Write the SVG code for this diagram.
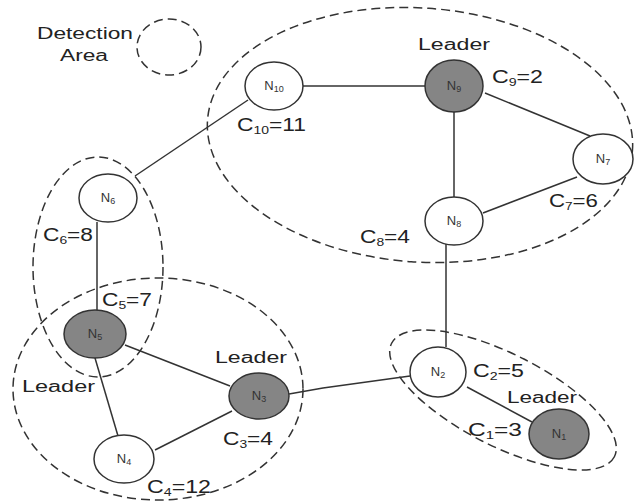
<svg xmlns="http://www.w3.org/2000/svg" width="634" height="504" viewBox="0 0 634 504">
<style>
.area{fill:none;stroke:#333;stroke-width:1.5;stroke-dasharray:9 5}
.node{stroke:#333;stroke-width:1.5}
.w{fill:#fff}
.g{fill:#858585}
.lbl{font-family:"Liberation Sans",Arial,sans-serif;fill:#222}
.nl{font-family:"Liberation Sans",Arial,sans-serif;font-size:13px;fill:#333;text-anchor:middle}
.sub{font-size:9px}
.lead{font-size:16px}
.cl{font-size:18px}
#connectors line,#connectors polyline{stroke:#333;stroke-width:1.5;fill:none}
</style>
<rect width="634" height="504" fill="#fff"/>
<g id="legend">
<text class="lbl lead" x="37" y="39" textLength="96" lengthAdjust="spacingAndGlyphs">Detection</text>
<text class="lbl lead" x="60" y="61" textLength="48" lengthAdjust="spacingAndGlyphs">Area</text>
<ellipse class="area" cx="169" cy="47" rx="32" ry="28"/>
</g>
<g id="areas">
<ellipse class="area" cx="420" cy="135" rx="213" ry="127" transform="rotate(4 420 135)"/>
<ellipse class="area" cx="98" cy="267" rx="65" ry="110"/>
<ellipse class="area" cx="158" cy="389" rx="145" ry="111"/>
<ellipse class="area" cx="503" cy="400" rx="125" ry="46" transform="rotate(27 503 400)"/>
</g>
<g id="connectors">
<line x1="303" y1="86" x2="425" y2="86"/>
<line x1="248" y1="100" x2="135" y2="176"/>
<line x1="454" y1="112" x2="454" y2="198"/>
<line x1="485" y1="93" x2="590" y2="136"/>
<line x1="483" y1="213" x2="577" y2="177"/>
<line x1="446" y1="244" x2="446" y2="347"/>
<line x1="97" y1="222" x2="97" y2="310"/>
<line x1="125" y1="345" x2="230" y2="386"/>
<line x1="95" y1="358" x2="118" y2="436"/>
<line x1="155" y1="450" x2="232" y2="411"/>
<polyline points="289,394 323,388 410,376"/>
<line x1="467" y1="387" x2="532" y2="422"/>
</g>
<g id="N10"><ellipse class="node w" cx="274" cy="86" rx="29" ry="24"/><text class="nl" x="274" y="90">N<tspan class="sub" dy="2">10</tspan></text></g>
<g id="N9"><ellipse class="node g" cx="454" cy="86" rx="29" ry="26"/><text class="nl" x="454" y="90">N<tspan class="sub" dy="2">9</tspan></text></g>
<g id="N7"><ellipse class="node w" cx="603" cy="159" rx="30" ry="25"/><text class="nl" x="603" y="163">N<tspan class="sub" dy="2">7</tspan></text></g>
<g id="N8"><ellipse class="node w" cx="454" cy="221" rx="29" ry="24"/><text class="nl" x="454" y="225">N<tspan class="sub" dy="2">8</tspan></text></g>
<g id="N6"><ellipse class="node w" cx="108" cy="198" rx="29" ry="24"/><text class="nl" x="108" y="202">N<tspan class="sub" dy="2">6</tspan></text></g>
<g id="N5"><ellipse class="node g" cx="95" cy="334" rx="31" ry="24"/><text class="nl" x="95" y="338">N<tspan class="sub" dy="2">5</tspan></text></g>
<g id="N3"><ellipse class="node g" cx="259" cy="396" rx="30" ry="23"/><text class="nl" x="259" y="400">N<tspan class="sub" dy="2">3</tspan></text></g>
<g id="N4"><ellipse class="node w" cx="124" cy="459" rx="30" ry="24"/><text class="nl" x="124" y="463">N<tspan class="sub" dy="2">4</tspan></text></g>
<g id="N2"><ellipse class="node w" cx="438" cy="372" rx="28" ry="25"/><text class="nl" x="438" y="376">N<tspan class="sub" dy="2">2</tspan></text></g>
<g id="N1"><ellipse class="node g" cx="559" cy="434" rx="30" ry="25"/><text class="nl" x="559" y="438">N<tspan class="sub" dy="2">1</tspan></text></g>
<g id="labels">
<text class="lbl lead" x="418" y="50" textLength="72" lengthAdjust="spacingAndGlyphs">Leader</text>
<text class="lbl lead" x="215" y="363" textLength="72" lengthAdjust="spacingAndGlyphs">Leader</text>
<text class="lbl lead" x="22" y="392" textLength="73" lengthAdjust="spacingAndGlyphs">Leader</text>
<text class="lbl lead" x="507" y="403" textLength="70" lengthAdjust="spacingAndGlyphs">Leader</text>
<text class="lbl cl" x="237" y="131" textLength="69" lengthAdjust="spacingAndGlyphs">C<tspan font-size="11" dy="3">10</tspan><tspan dy="-3">=11</tspan></text>
<text class="lbl cl" x="492" y="83" textLength="51" lengthAdjust="spacingAndGlyphs">C<tspan font-size="11" dy="3">9</tspan><tspan dy="-3">=2</tspan></text>
<text class="lbl cl" x="549" y="207" textLength="49" lengthAdjust="spacingAndGlyphs">C<tspan font-size="11" dy="3">7</tspan><tspan dy="-3">=6</tspan></text>
<text class="lbl cl" x="360" y="243" textLength="50" lengthAdjust="spacingAndGlyphs">C<tspan font-size="11" dy="3">8</tspan><tspan dy="-3">=4</tspan></text>
<text class="lbl cl" x="43" y="241" textLength="50" lengthAdjust="spacingAndGlyphs">C<tspan font-size="11" dy="3">6</tspan><tspan dy="-3">=8</tspan></text>
<text class="lbl cl" x="102" y="306" textLength="50" lengthAdjust="spacingAndGlyphs">C<tspan font-size="11" dy="3">5</tspan><tspan dy="-3">=7</tspan></text>
<text class="lbl cl" x="223" y="445" textLength="50" lengthAdjust="spacingAndGlyphs">C<tspan font-size="11" dy="3">3</tspan><tspan dy="-3">=4</tspan></text>
<text class="lbl cl" x="147" y="493" textLength="64" lengthAdjust="spacingAndGlyphs">C<tspan font-size="11" dy="3">4</tspan><tspan dy="-3">=12</tspan></text>
<text class="lbl cl" x="473" y="377" textLength="51" lengthAdjust="spacingAndGlyphs">C<tspan font-size="11" dy="3">2</tspan><tspan dy="-3">=5</tspan></text>
<text class="lbl cl" x="468" y="436" textLength="54" lengthAdjust="spacingAndGlyphs">C<tspan font-size="11" dy="3">1</tspan><tspan dy="-3">=3</tspan></text>
</g>
</svg>
